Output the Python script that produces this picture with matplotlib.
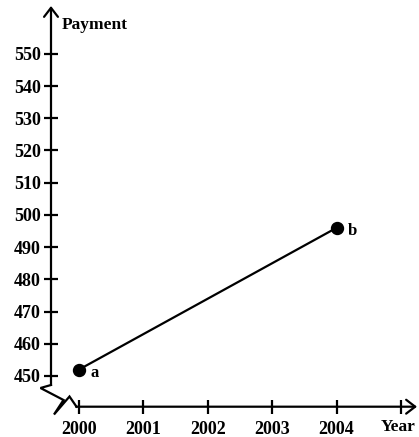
import matplotlib
matplotlib.use("Agg")
import matplotlib.pyplot as plt

# ---- data ----
years = [2000, 2004]
payments = [452, 496]
point_labels = ["a", "b"]
y_ticks = [450, 460, 470, 480, 490, 500, 510, 520, 530, 540, 550]
x_ticks = [2000, 2001, 2002, 2003, 2004, 2005]
x_tick_labels = ["2000", "2001", "2002", "2003", "2004", ""]
y_title = "Payment"
x_title = "Year"

W, H = 419, 437
fig = plt.figure(figsize=(W / 100, H / 100), dpi=100)
ax = fig.add_axes([0, 0, 1, 1])

# pixel <-> data layout constants
X0PX, XS = 79.0, 64.4      # px of 2000, px per year
Y0PX, YS = 376.0, 3.222    # px of 450, px per unit
ax.set_xlim(2000 - X0PX / XS, 2000 + (W - X0PX) / XS)
ax.set_ylim(450 - (H - Y0PX) / YS, 450 + Y0PX / YS)

def dx(px):
    return 2000 + (px - X0PX) / XS

def dy(py):
    return 450 - (py - Y0PX) / YS

serif = ["Liberation Serif", "DejaVu Serif"]
LW = 1.6

for s in ("top", "right", "left", "bottom"):
    ax.spines[s].set_visible(False)
ax.spines["left"].set_position(("data", dx(51)))
ax.spines["bottom"].set_position(("data", dy(406.7)))

arrow = dict(arrowstyle="->,head_length=0.65,head_width=0.5", lw=LW,
             color="black", shrinkA=0, shrinkB=0)
# y axis
ax.annotate("", xy=(dx(51), dy(6)), xytext=(dx(51), dy(385)), arrowprops=arrow)
# x axis
ax.annotate("", xy=(dx(417), dy(406.7)), xytext=(dx(76), dy(406.7)), arrowprops=arrow)

# axis break zigzag
bx = [51, 40.5, 63.5, 54, 69.5, 76.5]
by = [385, 388, 400, 414.5, 396.5, 406.7]
ax.plot([dx(v) for v in bx], [dy(v) for v in by], color="black", lw=LW,
        solid_joinstyle="miter", clip_on=False)

ax.set_yticks(y_ticks)
ax.set_yticklabels([str(v) for v in y_ticks])
ax.set_xticks(x_ticks)
ax.set_xticklabels(x_tick_labels)
ax.tick_params(axis="both", direction="inout", length=10, width=LW, color="black")
ax.tick_params(axis="y", pad=2.5)
ax.tick_params(axis="x", pad=5)
for lab in ax.get_xticklabels() + ax.get_yticklabels():
    lab.set_family(serif)
    lab.set_fontsize(13)
    lab.set_fontweight("bold")

# data line and points
ax.plot(years, payments, color="black", lw=LW)
ax.plot(years, payments, "o", color="black", markersize=8.6)
for x, y, t in zip(years, payments, point_labels):
    ax.annotate(t, (x, y), xytext=(8, -5.5), textcoords="offset points",
                ha="left", va="baseline", family=serif, fontweight="bold",
                fontsize=12)

# titles
ax.text(dx(62), dy(29), y_title, ha="left", va="baseline", family=serif,
        fontweight="bold", fontsize=12.5)
ax.text(dx(381), dy(431), x_title, ha="left", va="baseline", family=serif,
        fontweight="bold", fontsize=12.5, clip_on=False)

fig.savefig("out.png", dpi=100)
